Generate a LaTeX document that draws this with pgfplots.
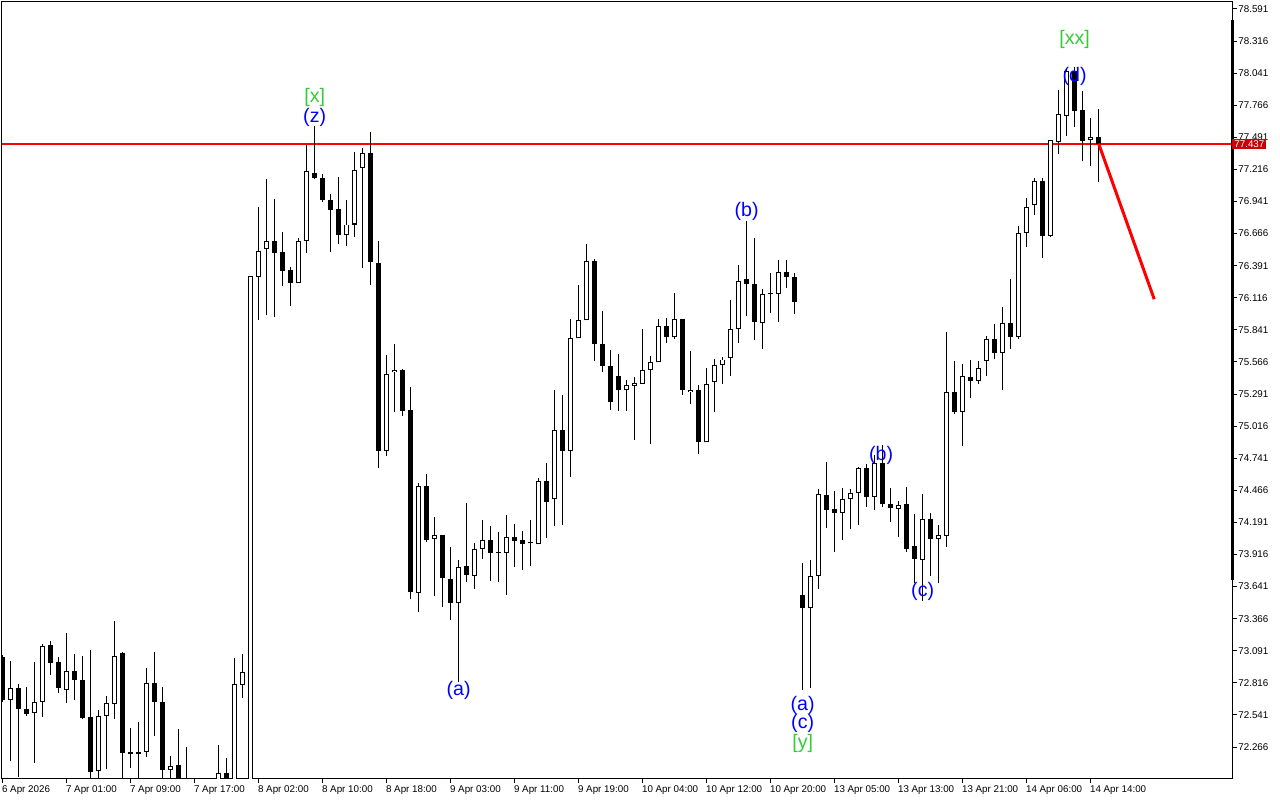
\documentclass[border=0pt]{standalone}
\usepackage{fontspec}
\setmainfont{Liberation Sans}
\usepackage{pgfplots}
\usepackage{pgfplotstable}
\pgfplotsset{compat=1.18}
\definecolor{wblue}{RGB}{0,0,255}
\definecolor{wgreen}{RGB}{50,205,50}
\definecolor{tagred}{RGB}{204,0,0}
\definecolor{pline}{RGB}{255,0,0}
\newcommand{\wavefont}{\fontsize{9.8}{11}\selectfont}
\newcommand{\tickfont}{\fontsize{4.9}{6}\selectfont}

\pgfplotstableread{
i O H L C
0 73.037 73.054 72.652 72.669
1 72.669 73.003 72.146 72.772
2 72.772 72.806 72.009 72.592
3 72.592 72.780 72.532 72.549
4 72.557 72.994 72.129 72.652
5 72.652 73.149 72.523 73.132
6 73.140 73.174 72.883 72.986
7 72.994 73.037 72.729 72.772
8 72.754 73.243 72.643 72.917
9 72.917 73.063 72.669 72.840
10 72.840 73.046 72.506 72.514
11 72.523 73.097 71.897 72.052
12 72.060 72.583 71.897 72.532
13 72.532 72.703 72.077 72.643
14 72.634 73.346 72.506 73.046
15 73.072 73.080 71.855 72.215
16 72.223 72.429 72.086 72.206
17 72.223 72.480 71.897 72.206
18 72.223 72.943 72.180 72.814
19 72.814 73.080 72.360 72.652
20 72.652 72.780 71.897 72.069
21 72.069 72.189 71.897 72.103
22 72.112 72.420 71.812 71.897
23 71.897 72.266 71.726 71.812
24 71.812 71.897 71.640 71.726
25 71.726 71.897 71.555 71.812
26 71.812 71.940 71.683 71.855
27 71.983 72.283 71.897 72.043
28 72.043 72.172 71.897 71.940
29 71.812 73.029 71.769 72.806
30 72.797 73.063 72.686 72.909
31 71.726 76.303 71.683 76.303
32 76.294 76.894 75.926 76.517
33 76.530 77.131 75.966 76.606
34 76.606 76.963 75.947 76.500
35 76.508 76.680 76.220 76.346
36 76.352 76.377 76.046 76.246
37 76.246 76.628 76.243 76.606
38 76.606 77.429 76.500 77.199
39 77.188 77.585 77.131 77.141
40 77.146 77.173 76.937 76.954
41 76.951 77.005 76.512 76.870
42 76.873 77.151 76.580 76.651
43 76.651 76.951 76.563 76.744
44 76.744 77.364 76.637 77.209
45 77.225 77.400 76.373 77.360
46 77.360 77.541 76.227 76.424
47 76.418 76.599 74.659 74.804
48 74.804 75.624 74.756 75.465
49 75.476 75.724 75.137 75.494
50 75.494 75.506 75.104 75.146
51 75.153 75.350 73.532 73.594
52 73.588 74.529 73.423 74.507
53 74.507 74.604 74.023 74.039
54 74.052 74.233 73.564 74.087
55 74.087 74.087 73.464 73.713
56 73.710 73.984 73.351 73.500
57 73.500 73.869 72.819 73.809
58 73.813 74.355 73.680 73.738
59 73.732 74.016 73.620 73.959
60 73.959 74.209 73.877 74.037
61 74.037 74.160 73.691 73.931
62 73.928 74.109 73.683 73.928
63 73.931 74.254 73.571 74.063
64 74.063 74.177 73.811 74.034
65 74.037 74.117 73.786 74.008
66 74.012 74.211 73.820 74.012
67 74.003 74.571 74.003 74.543
68 74.543 74.700 74.060 74.368
69 74.389 75.323 74.163 74.980
70 74.980 75.283 74.171 74.805
71 74.805 75.934 74.583 75.769
72 75.769 76.226 75.769 75.923
73 75.923 76.577 75.923 76.429
74 76.429 76.446 75.577 75.717
75 75.717 76.003 75.482 75.534
76 75.529 75.668 75.157 75.220
77 75.443 75.634 75.148 75.323
78 75.323 75.409 75.148 75.366
79 75.357 75.437 74.900 75.383
80 75.380 75.848 75.373 75.494
81 75.494 75.613 74.865 75.562
82 75.562 75.934 75.562 75.871
83 75.871 75.939 75.731 75.777
84 75.777 76.161 75.765 75.934
85 75.934 75.934 75.285 75.329
86 75.307 75.660 75.207 75.326
87 75.322 75.366 74.781 74.877
88 74.877 75.512 74.877 75.381
89 75.391 75.591 75.133 75.537
90 75.537 75.606 75.379 75.587
91 75.596 76.095 75.447 75.846
92 75.846 76.401 75.731 76.264
93 76.277 76.778 75.956 76.236
94 76.238 76.625 75.752 75.912
95 75.896 76.189 75.678 76.145
96 76.145 76.326 75.986 76.148
97 76.145 76.436 75.912 76.333
98 76.333 76.436 76.204 76.298
99 76.298 76.329 75.974 76.083
100 73.566 73.843 72.754 73.455
101 73.455 73.869 72.769 73.729
102 73.734 74.477 73.618 74.432
103 74.423 74.706 74.145 74.300
104 74.306 74.460 73.940 74.274
105 74.274 74.486 74.043 74.389
106 74.389 74.475 74.134 74.440
107 74.440 74.666 74.171 74.655
108 74.655 74.691 74.325 74.406
109 74.411 74.766 74.295 74.697
110 74.697 74.852 74.320 74.346
111 74.346 74.486 74.197 74.312
112 74.308 74.372 74.068 74.337
113 74.349 74.494 73.935 73.965
114 73.989 74.263 73.669 73.875
115 73.866 74.437 73.520 74.217
116 74.217 74.271 73.732 74.051
117 74.051 74.169 73.669 74.080
118 74.072 75.820 73.983 75.308
119 75.308 75.574 75.123 75.140
120 75.140 75.546 74.846 75.449
121 75.438 75.585 75.254 75.403
122 75.403 75.577 75.376 75.514
123 75.574 75.787 75.444 75.766
124 75.766 75.887 75.591 75.642
125 75.642 76.035 75.326 75.902
126 75.902 76.274 75.677 75.783
127 75.783 76.735 75.763 76.673
128 76.673 76.975 76.552 76.897
129 76.907 77.140 76.827 77.119
130 77.119 77.140 76.458 76.646
131 76.646 77.466 76.635 77.466
132 77.454 77.897 77.350 77.687
133 77.678 78.077 77.503 78.060
134 78.060 78.095 77.581 77.719
135 77.723 77.888 77.285 77.462
136 77.466 77.660 77.246 77.497
137 77.497 77.734 77.111 77.437
}\candles

\begin{document}
\begin{tikzpicture}
\path[use as bounding box] (0,0) rectangle (640pt,400pt);
\begin{axis}[
  at={(1pt,11pt)}, anchor=south west,
  scale only axis, width=615pt, height=388pt,
  xmin=-0.084, xmax=153.67, ymin=72.0003, ymax=78.651,
  axis line style={line width=0.5pt},
  tick align=outside,
  xtick pos=bottom, ytick pos=right,
  major tick length=2.5pt,
  tick style={black, line width=0.5pt},
  xtick={0,8,...,136},
  xticklabels={6 Apr 2026, 7 Apr 01:00, 7 Apr 09:00, 7 Apr 17:00, 8 Apr 02:00, 8 Apr 10:00, 8 Apr 18:00, 9 Apr 03:00, 9 Apr 11:00, 9 Apr 19:00, 10 Apr 04:00, 10 Apr 12:00, 10 Apr 20:00, 13 Apr 05:00, 13 Apr 13:00, 13 Apr 21:00, 14 Apr 06:00, 14 Apr 14:00},
  xticklabel style={anchor=north west, inner sep=0pt, font=\tickfont, xshift=-0.5pt, yshift=-1pt},
  ytick={72.266,72.541,72.816,73.091,73.366,73.641,73.916,74.191,74.466,74.741,75.016,75.291,75.566,75.841,76.116,76.391,76.666,76.941,77.216,77.491,77.766,78.041,78.316,78.591},
  yticklabel style={anchor=west, inner sep=0pt, font=\tickfont, xshift=0.5pt, /pgf/number format/.cd, fixed, fixed zerofill, precision=3, assume math mode=true},
  clip mode=individual,
]
% current price line
\addplot[color=pline, line width=0.9pt, forget plot] coordinates {(-0.084,77.437) (153.67,77.437)};
% wicks
\addplot[draw=none, no markers, forget plot, error bars/.cd, y dir=plus, y explicit, error mark=none, error bar style={draw=black, line width=0.5pt}]
  table[x=i, y=L, y error plus expr={\thisrow{H}-\thisrow{L}}] {\candles};
% bodies (outline / bear fill)
\addplot[draw=none, no markers, forget plot, error bars/.cd, y dir=plus, y explicit, error mark=none, error bar style={draw=black, line width=2.5pt}]
  table[x=i, y expr={min(\thisrow{O},\thisrow{C})}, y error plus expr={max(abs(\thisrow{C}-\thisrow{O}),0.0086)}] {\candles};
% bull interiors
\addplot[draw=none, no markers, forget plot, error bars/.cd, y dir=plus, y explicit, error mark=none, error bar style={draw=white, line width=1.5pt}]
  table[x=i, y expr={min(\thisrow{O},\thisrow{C})+0.0086}, y error plus expr={(\thisrow{C}>\thisrow{O})*max(\thisrow{C}-\thisrow{O}-0.0171,0)}] {\candles};
% forecast line
\addplot[color=pline, line width=1.5pt, forget plot] coordinates {(137,77.437) (143.95,76.103)};

\draw[line width=1.5pt] (rel axis cs:1,0.255) -- (rel axis cs:1,0.977);

\node[fill=tagred, text=white, font=\tickfont, inner xsep=1pt, inner ysep=0.8pt, anchor=west] at (axis cs:153.67,77.437) {77.437};

\node[wgreen, font=\wavefont] at (axis cs:39,77.837) {[x]};
\node[wblue, font=\wavefont] at (axis cs:39,77.665) {(z)};
\node[wblue, font=\wavefont] at (axis cs:57,72.754) {(a)};
\node[wblue, font=\wavefont] at (axis cs:93,76.860) {(b)};
\node[wblue, font=\wavefont] at (axis cs:100,72.626) {(a)};
\node[wblue, font=\wavefont] at (axis cs:100,72.472) {(c)};
\node[wgreen, font=\wavefont] at (axis cs:100,72.300) {[y]};
\node[wblue, font=\wavefont] at (axis cs:109.8,74.769) {(b)};
\node[wblue, font=\wavefont] at (axis cs:115,73.603) {(c)};
\node[wgreen, font=\wavefont] at (axis cs:134,78.334) {[xx]};
\node[wblue, font=\wavefont] at (axis cs:134,78.017) {(d)};
\end{axis}
\end{tikzpicture}
\end{document}
